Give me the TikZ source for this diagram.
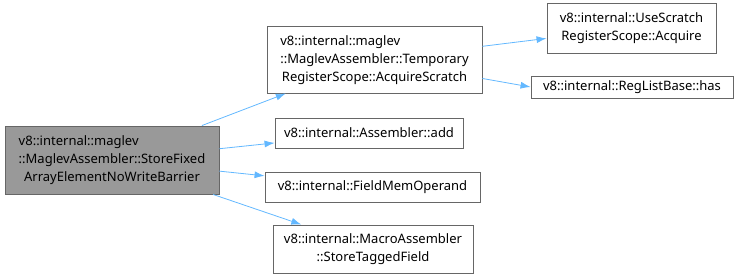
\documentclass[tikz,border=0pt]{standalone}
\usepackage{fontspec}
\setmainfont{Noto Sans}
\usepackage{xcolor}
\usepackage{tikz}
\usetikzlibrary{arrows.meta, positioning}

\definecolor{edgeblue}{HTML}{63B8FF}
\definecolor{boxline}{HTML}{666666}
\definecolor{boxfill}{HTML}{999999}

% dòng cuối của nhãn được căn giữa, các dòng trên căn trái
\newcommand{\ctrline}[1]{\multicolumn{1}{@{}c@{}}{#1}}

\tikzset{
    fn/.style={draw=boxline, fill=white, line width=0.9pt, align=center,
        inner sep=0pt, font=\fontsize{13}{18}\selectfont},
    fnmain/.style={fn, fill=boxfill},
    call/.style={->, draw=edgeblue, line width=0.8pt}
}

\begin{document}
\begin{tikzpicture}[>={Latex[length=10pt,width=7pt]}, x=1pt, y=-1pt]
    % Khung ảnh
    \useasboundingbox (0,0) rectangle (740,279);

    % Hàm gốc
    \node[fnmain, minimum width=214pt, minimum height=68pt] (store) at (112,160)
        {\begin{tabular}{@{}l@{}}v8::internal::maglev\\::MaglevAssembler::StoreFixed\\
         \ctrline{ArrayElementNoWriteBarrier}\end{tabular}};

    % Các hàm được gọi
    \node[fn, minimum width=215pt, minimum height=67pt] (scratch) at (374.5,59.5)
        {\begin{tabular}{@{}l@{}}v8::internal::maglev\\::MaglevAssembler::Temporary\\
         \ctrline{RegisterScope::AcquireScratch}\end{tabular}};
    \node[fn, minimum width=188pt, minimum height=30pt] (add) at (369,133)
        {v8::internal::Assembler::add};
    \node[fn, minimum width=215pt, minimum height=30pt] (fieldmem) at (372.5,187)
        {v8::internal::FieldMemOperand};
    \node[fn, minimum width=200pt, minimum height=48pt] (tagged) at (373,249)
        {\begin{tabular}{@{}l@{}}v8::internal::MacroAssembler\\
         \ctrline{::StoreTaggedField}\end{tabular}};

    % Tầng thứ ba
    \node[fn, minimum width=169pt, minimum height=50pt] (acquire) at (631.5,28)
        {\begin{tabular}{@{}l@{}}v8::internal::UseScratch\\
         \ctrline{RegisterScope::Acquire}\end{tabular}};
    \node[fn, minimum width=202pt, minimum height=22pt] (has) at (632,87)
        {v8::internal::RegListBase::has};

    % Các mũi tên gọi hàm
    \draw[call] (store) -- (scratch);
    \draw[call] (store) -- (add);
    \draw[call] (store) -- (fieldmem);
    \draw[call] (store) -- (tagged);
    \draw[call] (scratch) -- (acquire);
    \draw[call] (scratch) -- (has.west);
\end{tikzpicture}
\end{document}
